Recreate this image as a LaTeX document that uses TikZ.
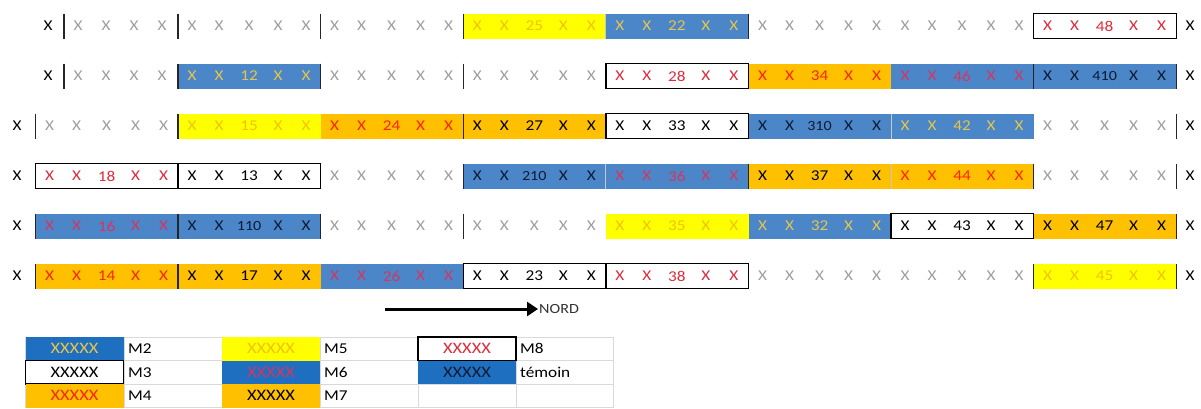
\documentclass[tikz,border=0pt]{standalone}
\usepackage{fontspec}
\setmainfont{Carlito}[FakeStretch=1.15]
\usetikzlibrary{arrows.meta}
\definecolor{cblue}{HTML}{4A86C8}
\definecolor{lblue}{HTML}{1F6FC0}
\definecolor{corange}{HTML}{FFC000}
\definecolor{cyellow}{HTML}{FFFF00}
\definecolor{tyel}{HTML}{E8C54A}
\definecolor{tfive}{HTML}{F0C400}
\definecolor{tred}{HTML}{FF2400}
\definecolor{tmag}{HTML}{D8345F}
\definecolor{tred8}{HTML}{E02A3A}
\definecolor{tnavy}{HTML}{0F1A35}
\definecolor{cgrey}{HTML}{9E9E9E}
\definecolor{cgrid}{HTML}{D9D9D9}
\newcommand\sm[1]{{\fontsize{14}{14}\selectfont #1}}
\newcommand\blkcell[4]{%
  \pgfmathsetmacro\bx{35.5+142.6*#2}%
  \pgfmathsetmacro\by{26+50*(#1-1)}%
  \node[f#3, anchor=west] (b#1#2) at (\bx,\by) {};%
  \node[t#3] (b#1#2x1) at (\bx+14,\by) {X};%
  \node[t#3] (b#1#2x2) at (\bx+41,\by) {X};%
  \node[t#3] (b#1#2x3) at (\bx+71,\by) {#4};%
  \node[t#3] (b#1#2x4) at (\bx+100,\by) {X};%
  \node[t#3] (b#1#2x5) at (\bx+128,\by) {X};%
}
\newcommand\barl[3]{\draw[#3] (b#1#2.north west) -- (b#1#2.south west);}
\newcommand\barr[3]{\draw[#3] (b#1#2.north east) -- (b#1#2.south east);}
\newcommand\boxo[2]{\draw[boxline] (b#1#2.north west) rectangle (b#1#2.south east);}
\begin{document}
\begin{tikzpicture}[x=1pt,y=-1pt,
  blk/.style={rectangle, minimum width=142.6pt, minimum height=25pt, inner sep=0pt, outer sep=0pt},
  fg/.style={blk}, fM2/.style={blk, fill=cblue}, fM3/.style={blk},
  fM4/.style={blk, fill=corange}, fM5/.style={blk, fill=cyellow},
  fM6/.style={blk, fill=cblue}, fM7/.style={blk, fill=corange},
  fM8/.style={blk}, fT/.style={blk, fill=cblue},
  tx/.style={inner sep=0pt, font=\fontsize{15}{15}\selectfont},
  tg/.style={tx, text=cgrey}, tk/.style={tx, text=black},
  tM2/.style={tx, text=tyel}, tM3/.style={tx, text=black},
  tM4/.style={tx, text=tred}, tM5/.style={tx, text=tfive},
  tM6/.style={tx, text=tmag}, tM7/.style={tx, text=black},
  tM8/.style={tx, text=tred8}, tT/.style={tx, text=tnavy},
  dk/.style={draw=black!85, line width=1.4pt},
  lt/.style={draw=black!22, line width=1pt},
  boxline/.style={draw=black, line width=1.3pt},
  lsw/.style={rectangle, minimum width=98pt, minimum height=23.5pt, inner sep=0pt, font=\fontsize{16}{16}\selectfont},
  llab/.style={anchor=west, inner sep=0pt, font=\fontsize{15}{15}\selectfont}]
\useasboundingbox (0,0) rectangle (1201,408);
% ---------- row 1
\node[fg, anchor=west] (b10) at (35.5,26) {};
\node[tk] (r1s) at (48,26) {X};
\node[tg] (b10x2) at (78,26) {X};
\node[tg] (b10x3) at (106,26) {X};
\node[tg] (b10x4) at (134,26) {X};
\node[tg] (b10x5) at (162,26) {X};
\blkcell{1}{1}{g}{X}\blkcell{1}{2}{g}{X}\blkcell{1}{3}{M5}{25}\blkcell{1}{4}{M2}{22}
\blkcell{1}{5}{g}{X}\blkcell{1}{6}{g}{X}\blkcell{1}{7}{M8}{48}
% ---------- row 2
\node[fg, anchor=west] (b20) at (35.5,76) {};
\node[tk] (r2s) at (48,76) {X};
\node[tg] (b20x2) at (78,76) {X};
\node[tg] (b20x3) at (106,76) {X};
\node[tg] (b20x4) at (134,76) {X};
\node[tg] (b20x5) at (162,76) {X};
\blkcell{2}{1}{M2}{12}\blkcell{2}{2}{g}{X}\blkcell{2}{3}{g}{X}\blkcell{2}{4}{M8}{28}
\blkcell{2}{5}{M4}{34}\blkcell{2}{6}{M6}{46}\blkcell{2}{7}{T}{\sm{410}}
% ---------- row 3
\blkcell{3}{0}{g}{X}\blkcell{3}{1}{M5}{15}\blkcell{3}{2}{M4}{24}\blkcell{3}{3}{M7}{27}
\blkcell{3}{4}{M3}{33}\blkcell{3}{5}{T}{\sm{310}}\blkcell{3}{6}{M2}{42}\blkcell{3}{7}{g}{X}
% ---------- row 4
\blkcell{4}{0}{M8}{18}\blkcell{4}{1}{M3}{13}\blkcell{4}{2}{g}{X}\blkcell{4}{3}{T}{\sm{210}}
\blkcell{4}{4}{M6}{36}\blkcell{4}{5}{M7}{37}\blkcell{4}{6}{M4}{44}\blkcell{4}{7}{g}{X}
% ---------- row 5
\blkcell{5}{0}{M6}{16}\blkcell{5}{1}{T}{\sm{110}}\blkcell{5}{2}{g}{X}\blkcell{5}{3}{g}{X}
\blkcell{5}{4}{M5}{35}\blkcell{5}{5}{M2}{32}\blkcell{5}{6}{M3}{43}\blkcell{5}{7}{M7}{47}
% ---------- row 6
\blkcell{6}{0}{M4}{14}\blkcell{6}{1}{M7}{17}\blkcell{6}{2}{M6}{26}\blkcell{6}{3}{M3}{23}
\blkcell{6}{4}{M8}{38}\blkcell{6}{5}{g}{X}\blkcell{6}{6}{g}{X}\blkcell{6}{7}{M5}{45}
% ---------- row end X's
\foreach \r in {1,...,6}{\node[tk] (e\r) at (1190,{26+50*(\r-1)}) {X};}
\foreach \r in {3,...,6}{\node[tk] (s\r) at (17,{26+50*(\r-1)}) {X};}
% ---------- bars
\coordinate (p1t) at (64,13.5); \coordinate (p1b) at (64,38.5);
\coordinate (p2t) at (64,63.5); \coordinate (p2b) at (64,88.5);
\draw[dk] (p1t) -- (p1b); \draw[dk] (p2t) -- (p2b);
\barl{1}{1}{dk}\barl{1}{2}{dk}\barl{1}{3}{dk}\barl{1}{4}{lt}\barl{1}{5}{dk}
\barl{2}{1}{dk}\barl{2}{2}{dk}\barl{2}{3}{dk}\barl{2}{7}{dk}\barr{2}{7}{dk}
\barl{3}{0}{dk}\barl{3}{1}{dk}\barl{3}{3}{dk}\barl{3}{6}{lt}\barr{3}{7}{dk}
\barl{4}{3}{dk}\barl{4}{4}{lt}\barl{4}{5}{dk}\barl{4}{6}{lt}\barl{4}{7}{dk}\barr{4}{7}{dk}
\barl{5}{0}{dk}\barl{5}{1}{dk}\barl{5}{2}{dk}\barl{5}{3}{dk}\barr{5}{7}{dk}
\barl{6}{0}{dk}\barl{6}{1}{dk}\barl{6}{7}{dk}\barr{6}{7}{dk}
% ---------- boxes
\boxo{1}{7}\boxo{2}{4}\boxo{3}{4}\boxo{4}{0}\boxo{4}{1}\boxo{5}{6}\boxo{6}{3}\boxo{6}{4}
% ---------- arrow
\coordinate (aS) at (385,309);
\coordinate (aE) at (538,309);
\draw[line width=3pt, -{Triangle[length=11pt,width=14pt]}] (aS) -- (aE);
\node[anchor=west, inner sep=1pt, text=black!80, font=\fontsize{14}{14}\selectfont] (nord) at (aE) {NORD};
% ---------- legend grid
\foreach \gx in {25,124,222,320,418,516,613}{\draw[cgrid, line width=0.8pt] (\gx,337) -- (\gx,408);}
\foreach \gy in {337,360.5,384,407.5}{\draw[cgrid, line width=0.8pt] (25,\gy) -- (613,\gy);}
% legend swatches
\node[lsw, fill=lblue, text=tyel] (l2) at (74.5,348.75) {XXXXX};
\node[lsw, fill=white, draw=black, line width=1.3pt, text=black] (l3) at (74.5,372.25) {XXXXX};
\node[lsw, fill=corange, text=tred] (l4) at (74.5,395.75) {XXXXX};
\node[lsw, fill=cyellow, text=tfive] (l5) at (271,348.75) {XXXXX};
\node[lsw, fill=lblue, text=tmag] (l6) at (271,372.25) {XXXXX};
\node[lsw, fill=corange, text=black] (l7) at (271,395.75) {XXXXX};
\node[lsw, fill=white, draw=black, line width=1.3pt, text=tred8] (l8) at (467,348.75) {XXXXX};
\node[lsw, fill=lblue, text=tnavy] (lt) at (467,372.25) {XXXXX};
\node[llab] (m2) at (128,348.75) {M2};
\node[llab] (m3) at (128,372.25) {M3};
\node[llab] (m4) at (128,395.75) {M4};
\node[llab] (m5) at (324,348.75) {M5};
\node[llab] (m6) at (324,372.25) {M6};
\node[llab] (m7) at (324,395.75) {M7};
\node[llab] (m8) at (520,348.75) {M8};
\node[llab] (mt) at (520,372.25) {témoin};
\end{tikzpicture}
\end{document}
